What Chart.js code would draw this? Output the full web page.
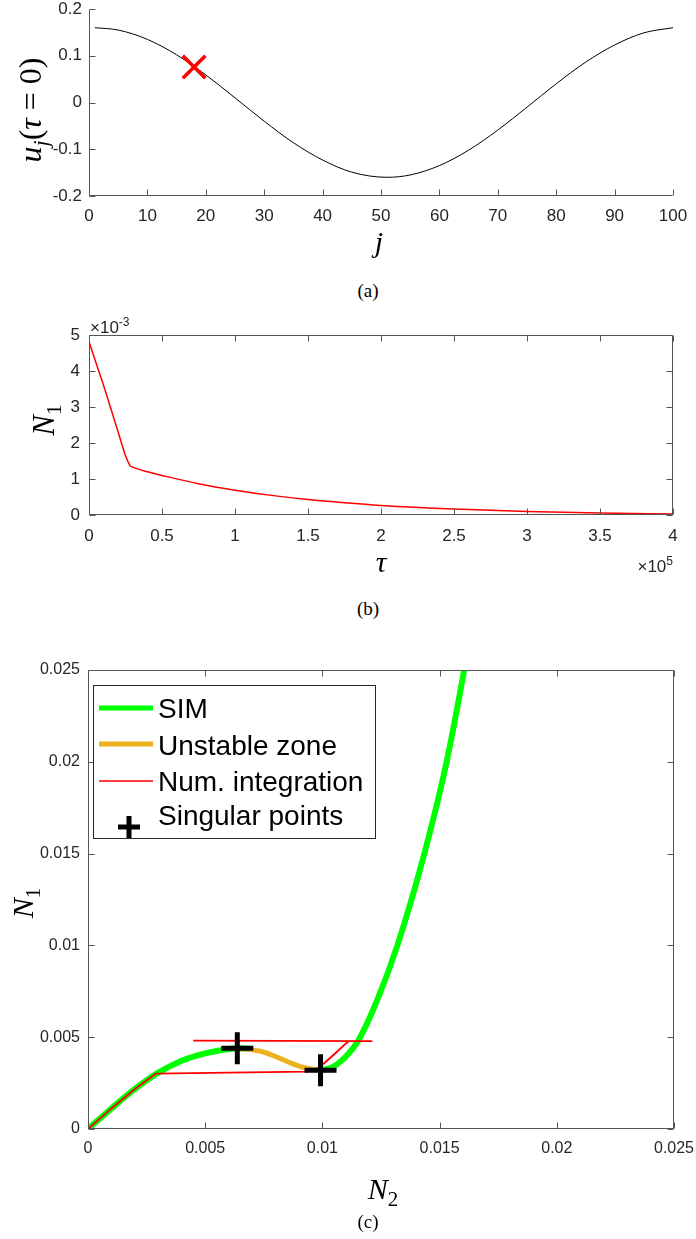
<!DOCTYPE html>
<html>
<head>
<meta charset="utf-8">
<script src="https://cdn.jsdelivr.net/npm/chart.js@4.4.1/dist/chart.umd.min.js"></script>
<style>
  html, body { margin: 0; padding: 0; background: #fff; }
  #page { position: relative; width: 696px; height: 1239px; overflow: hidden; }
  canvas { position: absolute; left: 0; }
  .cap { position: absolute; width: 40px; text-align: center; font: 19px 'Liberation Serif', serif; line-height: 20px; color: #000; }
</style>
</head>
<body>
<div id="page">
  <canvas id="chartA" width="740" height="290" style="top:-20px"></canvas>
  <div class="cap" style="left:348px; top:281px">(a)</div>
  <canvas id="chartB" width="740" height="290" style="top:300px"></canvas>
  <div class="cap" style="left:348px; top:599px">(b)</div>
  <canvas id="chartC" width="740" height="575" style="top:640px"></canvas>
  <div class="cap" style="left:348px; top:1212px">(c)</div>
</div>
<script>
// (a) initial profile u_j at tau = 0
const jIdx = [1, 5, 10, 15, 20, 25, 30, 35, 40, 45, 51, 55, 60, 65, 70, 75, 80, 85, 90, 95, 100];
const uInit = [0.160, 0.155, 0.135, 0.102, 0.059, 0.010, -0.040, -0.086, -0.123, -0.149, -0.160,
  -0.155, -0.135, -0.102, -0.059, -0.010, 0.040, 0.086, 0.123, 0.149, 0.160];
const markJ = [18];
const markU = [0.076];
const xTicksA = [0, 10, 20, 30, 40, 50, 60, 70, 80, 90, 100];
const xLabelsA = ['0', '10', '20', '30', '40', '50', '60', '70', '80', '90', '100'];
const yTicksA = [-0.2, -0.1, 0, 0.1, 0.2];
const yLabelsA = ['-0.2', '-0.1', '0', '0.1', '0.2'];

// (b) N1 against tau
const tauVals = [0, 5000, 10000, 15000, 20000, 25000, 28000, 30000, 40000, 50000, 75000, 100000,
  125000, 150000, 175000, 200000, 250000, 300000, 350000, 400000];
const n1Time = [4.82e-3, 4.2e-3, 3.6e-3, 2.95e-3, 2.3e-3, 1.65e-3, 1.38e-3, 1.33e-3, 1.2e-3, 1.1e-3,
  0.87e-3, 0.69e-3, 0.545e-3, 0.43e-3, 0.34e-3, 0.265e-3, 0.165e-3, 0.10e-3, 0.055e-3, 0.025e-3];
const xTicksB = [0, 50000, 100000, 150000, 200000, 250000, 300000, 350000, 400000];
const xLabelsB = ['0', '0.5', '1', '1.5', '2', '2.5', '3', '3.5', '4'];
const yTicksB = [0, 1e-3, 2e-3, 3e-3, 4e-3, 5e-3];
const yLabelsB = ['0', '1', '2', '3', '4', '5'];

// (c) phase plane N2 / N1
const simLowN2 = [0, 0.001, 0.002, 0.003, 0.004, 0.005, 0.006, 0.0064, 0.0069];
const simLowN1 = [0, 0.00112, 0.00218, 0.00307, 0.00372, 0.00412, 0.00436, 0.0044, 0.00437];
const unstN2 = [0.0064, 0.0074, 0.0080, 0.0086, 0.0092, 0.00992];
const unstN1 = [0.0044, 0.00422, 0.00395, 0.00362, 0.00335, 0.0032];
const simHighN2 = [0.00992, 0.0104, 0.0110, 0.0115, 0.0123, 0.0132, 0.01435, 0.0153, 0.01605, 0.0162];
const simHighN1 = [0.0032, 0.00335, 0.00395, 0.00475, 0.0069, 0.0100, 0.0150, 0.0200, 0.0250, 0.0261];
const numN2 = [0.00449, 0.0121, 0.01115, 0.01104, 0.01047, 0.01004, 0.0097, 0.00933, 0.006, 0.0029, 0.002, 0.001, 0];
const numN1 = [0.00481, 0.00479, 0.00479, 0.0047, 0.00403, 0.00354, 0.00322, 0.00312, 0.00307, 0.00302, 0.00218, 0.00112, 0];
const singN2 = [0.00637, 0.00992];
const singN1 = [0.0044, 0.0032];
const ticksC = [0, 0.005, 0.01, 0.015, 0.02, 0.025];
const labelsC = ['0', '0.005', '0.01', '0.015', '0.02', '0.025'];
const legendC = ['SIM', 'Unstable zone', 'Num. integration', 'Singular points'];

const axisColor = '#555555';
const textColor = '#262626';
const pts = (xs, ys) => xs.map((x, i) => ({ x: x, y: ys[i] }));

function axis(min, max, values, labels, o) {
  return {
    type: 'linear', min: min, max: max,
    grid: { display: false, drawTicks: false },
    border: { display: false },
    afterBuildTicks: s => { s.ticks = values.map(v => ({ value: v })); },
    afterFit: s => { if (o.width) s.width = o.width; if (o.height) s.height = o.height; },
    ticks: {
      autoSkip: false, maxRotation: 0, padding: o.pad, color: textColor,
      font: { family: 'Liberation Sans', size: o.size, lineHeight: 1 },
      callback: (v, i) => labels[i]
    }
  };
}

// axis lines with inward tick marks, like the original figure
function frame(box) {
  return {
    id: 'frame',
    afterDatasetsDraw(chart) {
      const { ctx, chartArea: a, scales } = chart;
      const L = Math.round(a.left) + 0.5, R = Math.round(a.right) - 0.5;
      const T = Math.round(a.top) + 0.5, B = Math.round(a.bottom) - 0.5;
      const len = 6;
      ctx.save();
      ctx.strokeStyle = axisColor;
      ctx.lineWidth = 1;
      ctx.beginPath();
      ctx.moveTo(L, T); ctx.lineTo(L, B); ctx.lineTo(R, B);
      if (box) { ctx.lineTo(R, T); ctx.lineTo(L, T); }
      scales.x.ticks.forEach(t => {
        const px = Math.round(scales.x.getPixelForValue(t.value)) + 0.5;
        ctx.moveTo(px, B); ctx.lineTo(px, B - len);
        if (box) { ctx.moveTo(px, T); ctx.lineTo(px, T + len); }
      });
      scales.y.ticks.forEach(t => {
        const py = Math.round(scales.y.getPixelForValue(t.value)) + 0.5;
        ctx.moveTo(L, py); ctx.lineTo(L + len, py);
        if (box) { ctx.moveTo(R, py); ctx.lineTo(R - len, py); }
      });
      ctx.stroke();
      ctx.restore();
    }
  };
}

// axis titles with sub/superscripts
function drawMath(ctx, item) {
  const size = item.size;
  const pieces = item.parts.map(p => {
    const s = (p.sub || p.sup) ? Math.round(size * 0.7) : size;
    const font = (p.it ? 'italic ' : '') + s + 'px ' + (item.sans ? "'Liberation Sans'" : "'Liberation Serif'");
    ctx.font = font;
    return { t: p.t, font: font, w: ctx.measureText(p.t).width, dy: p.sub ? size * 0.22 : (p.sup ? -size * 0.42 : 0) };
  });
  const total = pieces.reduce((acc, p) => acc + p.w, 0);
  ctx.save();
  ctx.translate(item.x, item.y);
  if (item.rot) ctx.rotate(item.rot);
  ctx.fillStyle = item.color || '#000';
  ctx.textBaseline = 'alphabetic';
  let x = item.align === 'left' ? 0 : (item.align === 'right' ? -total : -total / 2);
  pieces.forEach(p => { ctx.font = p.font; ctx.fillText(p.t, x, p.dy); x += p.w; });
  ctx.restore();
}

function texts(items) {
  return { id: 'texts', afterDraw(chart) { items.forEach(it => drawMath(chart.ctx, it)); } };
}

const baseOpts = {
  responsive: false,
  animation: false,
  events: [],
  plugins: { legend: { display: false }, tooltip: { enabled: false } }
};

// (a)  canvas sits 20px above the page top; canvases are wider than the page
// so that the last tick label does not squeeze the plot area
new Chart(document.getElementById('chartA'), {
  type: 'scatter',
  data: {
    datasets: [
      { data: pts(markJ, markU), pointStyle: 'crossRot', pointRadius: 16, borderColor: '#ff0000', borderWidth: 3.5, order: 0 },
      { data: pts(jIdx, uInit), showLine: true, pointRadius: 0, borderColor: '#000000', borderWidth: 1,
        cubicInterpolationMode: 'monotone', order: 1 }
    ]
  },
  options: Object.assign({}, baseOpts, {
    layout: { padding: { top: 29, right: 67, left: 0, bottom: 0 } },
    scales: {
      x: axis(0, 100, xTicksA, xLabelsA, { height: 74, pad: 12, size: 17 }),
      y: axis(-0.2, 0.2, yTicksA, yLabelsA, { width: 89, pad: 7, size: 17 })
    }
  }),
  plugins: [frame(false), texts([
    { x: 41, y: 130, rot: -Math.PI / 2, size: 32, parts: [{ t: 'u', it: true }, { t: 'j', it: true, sub: true }, { t: '(' }, { t: 'τ', it: true }, { t: ' = 0)' }] },
    { x: 379, y: 272, size: 30, parts: [{ t: 'j', it: true }] }
  ])]
});

// (b)
new Chart(document.getElementById('chartB'), {
  type: 'scatter',
  data: {
    datasets: [
      { data: pts(tauVals, n1Time), showLine: true, pointRadius: 0, borderColor: '#ff0000', borderWidth: 1.5,
        cubicInterpolationMode: 'monotone' }
    ]
  },
  options: Object.assign({}, baseOpts, {
    layout: { padding: { top: 35, right: 67, left: 0, bottom: 0 } },
    scales: {
      x: axis(0, 400000, xTicksB, xLabelsB, { height: 75, pad: 13, size: 17 }),
      y: axis(0, 5e-3, yTicksB, yLabelsB, { width: 89, pad: 9, size: 17 })
    }
  }),
  plugins: [frame(true), texts([
    { x: 54, y: 120, rot: -Math.PI / 2, size: 31, parts: [{ t: 'N', it: true }, { t: '1', sub: true }] },
    { x: 381, y: 272, size: 30, parts: [{ t: 'τ', it: true }] },
    { x: 90, y: 33, size: 17, sans: true, align: 'left', color: textColor, parts: [{ t: '×10' }, { t: '-3', sup: true }] },
    { x: 673, y: 272, size: 17, sans: true, align: 'right', color: textColor, parts: [{ t: '×10' }, { t: '5', sup: true }] }
  ])]
});

// (c) legend drawn inside the axes
const legendBox = {
  id: 'legendBox',
  afterDraw(chart) {
    const ctx = chart.ctx;
    ctx.save();
    ctx.fillStyle = '#ffffff';
    ctx.fillRect(93, 45, 282, 153);
    ctx.strokeStyle = '#262626';
    ctx.lineWidth = 1;
    ctx.strokeRect(93.5, 45.5, 282, 153);
    const rows = [
      { y: 68, color: '#00ff00', w: 5 },
      { y: 104, color: '#edb120', w: 5 },
      { y: 141, color: '#ff0000', w: 1.5 }
    ];
    rows.forEach(r => {
      ctx.strokeStyle = r.color; ctx.lineWidth = r.w;
      ctx.beginPath(); ctx.moveTo(99, r.y); ctx.lineTo(153, r.y); ctx.stroke();
    });
    ctx.strokeStyle = '#000'; ctx.lineWidth = 5;
    ctx.beginPath();
    ctx.moveTo(118, 187); ctx.lineTo(140, 187);
    ctx.moveTo(129, 176); ctx.lineTo(129, 198);
    ctx.stroke();
    ctx.fillStyle = '#000';
    ctx.font = "28px 'Liberation Sans'";
    ctx.textBaseline = 'alphabetic';
    [78, 115, 151, 185].forEach((y, i) => ctx.fillText(legendC[i], 158, y));
    ctx.restore();
  }
};

new Chart(document.getElementById('chartC'), {
  type: 'scatter',
  data: {
    datasets: [
      { label: legendC[3], data: pts(singN2, singN1), pointStyle: 'cross', pointRadius: 16, borderColor: '#000', borderWidth: 5, order: 0 },
      { label: legendC[2], data: pts(numN2, numN1), showLine: true, pointRadius: 0, borderColor: '#ff0000', borderWidth: 1.8,
        borderJoinStyle: 'round', order: 1 },
      { label: legendC[1], data: pts(unstN2, unstN1), showLine: true, pointRadius: 0, borderColor: '#edb120', borderWidth: 5,
        cubicInterpolationMode: 'monotone', order: 2 },
      { label: legendC[0], data: pts(simLowN2, simLowN1), showLine: true, pointRadius: 0, borderColor: '#00ff00', borderWidth: 6,
        cubicInterpolationMode: 'monotone', order: 3 },
      { label: legendC[0], data: pts(simHighN2, simHighN1), showLine: true, pointRadius: 0, borderColor: '#00ff00', borderWidth: 6,
        cubicInterpolationMode: 'monotone', order: 3 }
    ]
  },
  options: Object.assign({}, baseOpts, {
    layout: { padding: { top: 30, right: 66, left: 0, bottom: 0 } },
    scales: {
      x: axis(0, 0.025, ticksC, labelsC, { height: 86, pad: 12, size: 16 }),
      y: axis(0, 0.025, ticksC, labelsC, { width: 88, pad: 8, size: 16 })
    }
  }),
  plugins: [frame(true), legendBox, texts([
    { x: 33, y: 263, rot: -Math.PI / 2, size: 30, parts: [{ t: 'N', it: true }, { t: '1', sub: true }] },
    { x: 383, y: 559, size: 30, parts: [{ t: 'N', it: true }, { t: '2', sub: true }] }
  ])]
});
</script>
</body>
</html>
